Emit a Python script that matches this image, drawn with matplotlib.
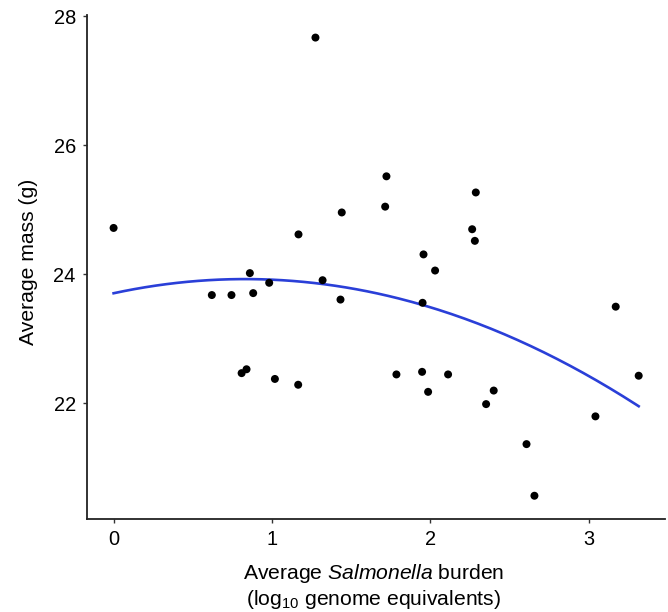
import matplotlib
matplotlib.use("Agg")
import matplotlib.pyplot as plt
import numpy as np

plt.rcParams['font.family'] = ['Liberation Sans', 'DejaVu Sans']
plt.rcParams['mathtext.fontset'] = 'custom'
plt.rcParams['mathtext.rm'] = 'Liberation Sans'
plt.rcParams['mathtext.it'] = 'Liberation Sans:italic'

# points
burden = [0.00, 1.274, 1.167, 0.860, 0.620, 0.744, 0.881, 0.982, 1.319, 1.432,
          1.440, 1.722, 1.714, 2.286, 2.263, 2.280, 1.956, 2.029, 1.950, 3.169,
          0.808, 0.839, 1.018, 1.165, 1.785, 1.947, 1.985, 2.111, 2.351, 2.399,
          2.606, 2.656, 3.041, 3.314]
mass = [24.72, 27.67, 24.62, 24.02, 23.68, 23.68, 23.71, 23.87, 23.91, 23.61,
        24.96, 25.52, 25.05, 25.27, 24.70, 24.52, 24.31, 24.06, 23.56, 23.50,
        22.47, 22.53, 22.38, 22.29, 22.45, 22.49, 22.18, 22.45, 21.99, 22.20,
        21.37, 20.57, 21.80, 22.43]

xticks = [0, 1, 2, 3]
yticks = [22, 24, 26, 28]

fig = plt.figure(figsize=(6.68, 6.12), dpi=100)
ax = fig.add_axes([0.1302, 0.152, 0.8653, 0.8235])

# quadratic least-squares fit of the points (as in the original figure)
coef = np.polyfit(burden, mass, 2)
xs = np.linspace(min(burden), max(burden), 200)
ax.plot(xs, np.polyval(coef, xs), color='#2a3fd8', lw=1.9, zorder=2)
ax.scatter(burden, mass, s=33, color='black', edgecolors='none', zorder=3)

ax.set_xlim(-0.168, 3.48)
ax.set_ylim(20.21, 28.02)
ax.set_xticks(xticks)
ax.set_yticks(yticks)
ax.tick_params(labelsize=14.4, length=3, width=1, color='#333333', pad=5)

for s in ['top', 'right']:
    ax.spines[s].set_visible(False)
for s in ['left', 'bottom']:
    ax.spines[s].set_linewidth(1.3)
    ax.spines[s].set_color('#222222')

ax.set_xlabel('Average $\\it{Salmonella}$ burden\n(log$_{10}$ genome equivalents)',
              fontsize=15.2, linespacing=1.2)
ax.xaxis.set_label_coords(0.496, -0.085, transform=ax.transAxes)
ax.xaxis.label.set_va('top')
ax.set_ylabel('Average mass (g)', fontsize=15.2)
ax.yaxis.set_label_coords(-0.085, 0.51)

fig.savefig('out.png', dpi=100)
